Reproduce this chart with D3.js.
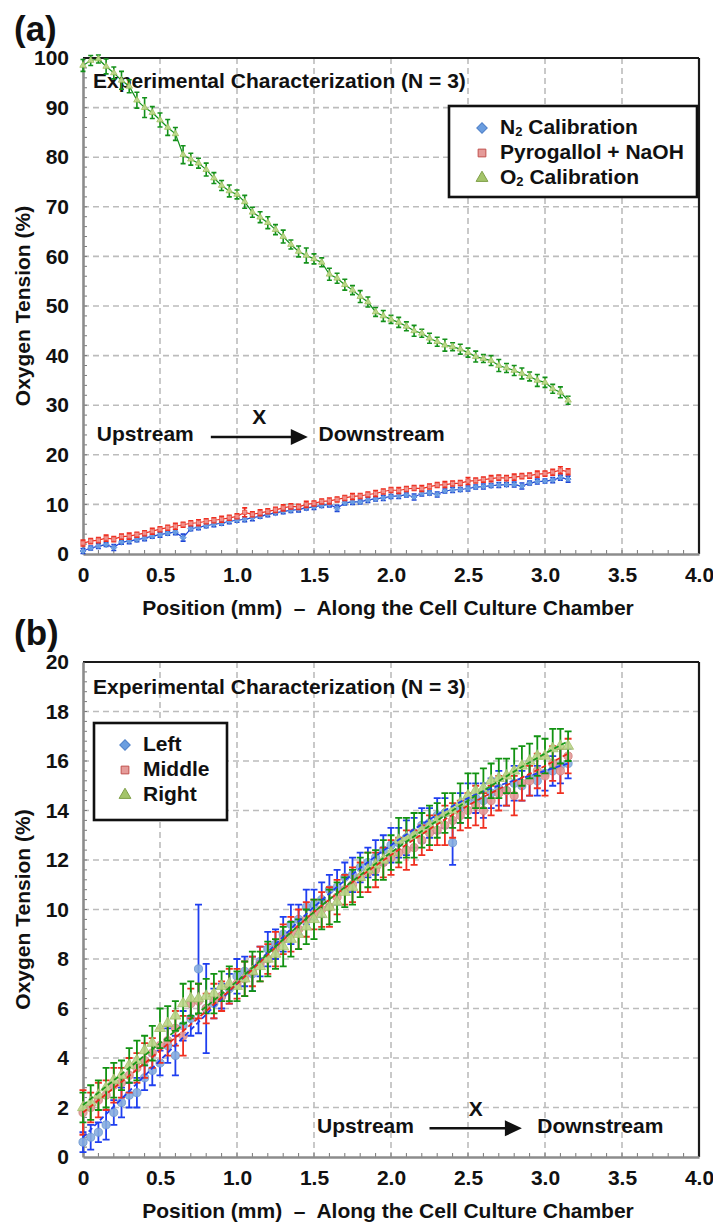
<!DOCTYPE html>
<html>
<head>
<meta charset="utf-8">
<script src="https://cdn.jsdelivr.net/npm/d3@7"></script>
<style>
  body { margin: 0; background: #fff; }
  text { font-family: "Liberation Sans", Arial, sans-serif; font-weight: bold; fill: #111; }
</style>
</head>
<body>
<div id="chart"></div>
<script>
// Oxygen tension along the cell culture chamber, panels (a) and (b)
const positions = [
  0, 0.05, 0.1, 0.15, 0.2, 0.25, 0.3, 0.35,
  0.4, 0.45, 0.5, 0.55, 0.6, 0.65, 0.7, 0.75,
  0.8, 0.85, 0.9, 0.95, 1.0, 1.05, 1.1, 1.15,
  1.2, 1.25, 1.3, 1.35, 1.4, 1.45, 1.5, 1.55,
  1.6, 1.65, 1.7, 1.75, 1.8, 1.85, 1.9, 1.95,
  2.0, 2.05, 2.1, 2.15, 2.2, 2.25, 2.3, 2.35,
  2.4, 2.45, 2.5, 2.55, 2.6, 2.65, 2.7, 2.75,
  2.8, 2.85, 2.9, 2.95, 3.0, 3.05, 3.1, 3.15];

// panel (a)
const n2Mean = [
  0.6, 1.2, 1.6, 1.9, 1.3, 2.4, 2.6, 2.9,
  3.2, 3.6, 3.9, 4.2, 4.4, 3.3, 5.1, 5.4,
  5.7, 6.0, 6.2, 6.6, 6.8, 7.0, 7.3, 7.6,
  8.0, 8.3, 8.6, 8.8, 9.0, 9.3, 9.5, 9.8,
  10.0, 9.2, 10.3, 10.5, 10.5, 10.9, 11.1, 11.3,
  11.6, 11.7, 11.9, 11.5, 12.2, 12.3, 12.0, 12.7,
  12.9, 13.0, 13.2, 13.5, 13.6, 13.8, 13.9, 14.0,
  14.0, 13.7, 14.3, 14.6, 14.7, 14.9, 15.4, 15.1];
const n2Err = [
  0.5, 0.4, 0.5, 0.4, 0.6, 0.4, 0.5, 0.4,
  0.5, 0.4, 0.5, 0.4, 0.5, 0.7, 0.4, 0.5,
  0.4, 0.5, 0.4, 0.5, 0.4, 0.5, 0.6, 0.4,
  0.5, 0.4, 0.5, 0.4, 0.5, 0.4, 0.5, 0.4,
  0.5, 0.6, 0.4, 0.5, 0.4, 0.5, 0.4, 0.5,
  0.4, 0.5, 0.4, 0.6, 0.5, 0.4, 0.5, 0.4,
  0.5, 0.4, 0.5, 0.4, 0.5, 0.4, 0.5, 0.4,
  0.5, 0.6, 0.4, 0.5, 0.4, 0.5, 0.5, 0.6];
const pyroMean = [
  2.2, 2.6, 2.8, 3.2, 3.0, 3.5, 3.6, 3.9,
  4.2, 4.6, 5.0, 5.3, 5.6, 5.9, 6.2, 6.3,
  6.6, 6.8, 7.0, 7.3, 7.6, 8.4, 8.0, 8.3,
  8.6, 8.9, 9.3, 9.6, 9.5, 10.0, 10.2, 10.6,
  10.7, 11.0, 11.3, 11.6, 11.7, 12.0, 12.2, 12.6,
  12.9, 12.8, 13.1, 13.3, 13.2, 13.6, 13.9, 14.0,
  14.2, 14.3, 14.7, 14.8, 15.0, 15.2, 15.4, 15.3,
  15.5, 15.7, 15.8, 16.1, 16.2, 16.5, 16.9, 16.6];
const pyroErr = [
  0.6, 0.5, 0.5, 0.6, 0.5, 0.5, 0.6, 0.5,
  0.5, 0.6, 0.5, 0.5, 0.6, 0.5, 0.5, 0.6,
  0.5, 0.5, 0.6, 0.5, 0.5, 0.9, 0.5, 0.6,
  0.5, 0.5, 0.6, 0.5, 0.5, 0.6, 0.5, 0.5,
  0.6, 0.5, 0.5, 0.6, 0.5, 0.5, 0.6, 0.5,
  0.5, 0.6, 0.5, 0.5, 0.6, 0.5, 0.5, 0.6,
  0.5, 0.5, 0.7, 0.5, 0.5, 0.6, 0.5, 0.5,
  0.6, 0.5, 0.5, 0.6, 0.5, 0.6, 0.7, 0.6];
const o2Mean = [
  98.5, 99.5, 99.8, 98.3, 97.0, 95.5, 94.3, 91.5,
  90.0, 89.0, 87.5, 86.0, 84.7, 80.5, 79.6, 78.8,
  77.5, 75.8, 74.3, 73.2, 72.5, 71.0, 68.9, 67.9,
  66.8, 65.4, 64.0, 62.4, 61.0, 60.2, 59.5, 58.8,
  56.4, 55.6, 54.3, 53.2, 51.9, 50.8, 48.8, 48.0,
  47.3, 46.7, 45.9, 45.0, 44.5, 43.5, 42.8, 42.1,
  41.8, 41.3, 40.6, 39.8, 39.4, 39.0, 38.0, 37.5,
  37.0, 36.4, 35.8, 35.0, 34.6, 33.3, 32.6, 31.0];
const o2Err = [
  1.2, 1.0, 0.8, 1.5, 1.2, 1.8, 1.3, 1.6,
  2.0, 1.2, 1.4, 1.6, 1.3, 1.8, 1.2, 1.0,
  1.3, 1.1, 1.0, 1.2, 0.9, 1.3, 1.0, 1.1,
  1.2, 1.0, 1.3, 0.9, 1.1, 1.5, 1.0, 0.9,
  1.2, 1.0, 1.1, 0.9, 1.2, 1.0, 0.9, 1.1,
  0.8, 1.0, 0.9, 1.1, 0.8, 1.0, 0.9, 1.2,
  0.8, 1.0, 0.9, 1.1, 0.8, 1.0, 1.2, 0.9,
  1.0, 1.1, 0.9, 1.2, 1.0, 0.9, 1.1, 0.8];

// panel (b)
const leftMean = [
  0.6, 0.8, 1.0, 1.3, 1.8, 2.2, 2.5, 2.6,
  3.2, 3.5, 3.8, 4.5, 4.1, 5.3, 5.6, 7.6,
  6.0, 6.2, 6.5, 6.8, 7.3, 7.5, 7.4, 7.9,
  8.4, 8.6, 9.0, 9.4, 9.6, 10.1, 10.2, 10.4,
  10.8, 10.9, 11.3, 11.4, 11.7, 11.9, 12.1, 12.4,
  12.6, 12.7, 12.9, 13.1, 13.4, 13.5, 13.8, 13.9,
  12.7, 14.1, 14.4, 14.5, 14.4, 14.7, 14.9, 14.8,
  15.1, 15.0, 15.3, 15.2, 15.5, 15.6, 15.8, 15.9];
const leftErr = [
  0.4, 0.5, 0.4, 0.6, 0.5, 0.6, 0.5, 0.6,
  0.5, 0.6, 0.5, 0.7, 0.8, 0.6, 0.7, 2.6,
  1.8, 0.6, 0.5, 0.6, 0.7, 0.6, 0.7, 0.6,
  0.7, 0.6, 0.7, 0.8, 0.6, 0.7, 0.6, 0.7,
  0.6, 0.7, 0.6, 0.7, 0.6, 0.6, 0.7, 0.6,
  0.7, 0.6, 0.7, 0.6, 0.7, 0.6, 0.7, 0.6,
  0.9, 0.6, 0.7, 0.6, 0.7, 0.6, 0.7, 0.6,
  0.7, 0.6, 0.7, 0.6, 0.7, 0.6, 0.7, 0.6];
const midMean = [
  1.8, 2.0, 2.3, 2.5, 2.9, 3.0, 3.3, 3.6,
  3.9, 4.2, 4.5, 4.7, 5.2, 4.9, 6.2, 6.3,
  6.0, 6.3, 6.5, 6.9, 7.0, 7.2, 7.5, 7.8,
  8.0, 8.4, 8.8, 9.0, 9.2, 9.6, 9.8, 10.0,
  10.1, 10.5, 10.8, 11.0, 11.3, 11.5, 11.6, 11.9,
  12.1, 12.3, 12.4, 12.5, 12.8, 13.1, 13.2, 13.4,
  13.6, 13.8, 14.0, 14.2, 14.0, 14.4, 14.7, 14.8,
  14.6, 15.1, 15.2, 15.6, 15.4, 15.9, 15.6, 16.2];
const midErr = [
  0.9, 0.6, 0.7, 0.6, 0.7, 0.6, 0.7, 0.6,
  0.7, 0.6, 0.7, 0.6, 0.7, 0.8, 0.6, 0.7,
  0.6, 0.7, 0.6, 0.7, 0.6, 0.7, 0.6, 0.7,
  0.6, 0.7, 0.6, 0.7, 0.8, 0.7, 0.6, 0.7,
  0.8, 0.7, 0.6, 0.7, 0.6, 0.8, 0.7, 0.6,
  0.7, 0.6, 0.8, 0.7, 0.6, 0.7, 0.6, 0.8,
  0.7, 0.6, 0.7, 0.8, 0.7, 0.6, 0.7, 0.6,
  0.8, 0.7, 0.6, 0.7, 0.8, 0.7, 0.9, 0.7];
const rightMean = [
  2.0, 2.2, 2.5, 2.8, 3.1, 3.3, 3.7, 3.9,
  4.3, 4.6, 5.2, 5.4, 5.7, 6.2, 6.4, 6.4,
  6.5, 6.6, 6.9, 7.0, 6.9, 7.2, 7.5, 7.7,
  8.0, 8.2, 8.5, 8.8, 9.0, 9.3, 9.6, 9.8,
  10.1, 10.3, 10.7, 10.9, 11.3, 11.6, 11.8, 12.0,
  12.3, 12.8, 12.9, 13.0, 13.2, 13.4, 13.6, 13.9,
  14.0, 14.3, 14.6, 14.8, 14.9, 15.2, 15.3, 15.4,
  15.6, 15.8, 16.0, 16.2, 16.2, 16.5, 16.6, 16.6];
const rightErr = [
  0.6, 0.7, 0.6, 0.8, 0.7, 0.6, 0.7, 0.8,
  0.6, 0.7, 0.8, 0.7, 0.6, 0.8, 0.7, 0.6,
  0.7, 0.8, 0.6, 0.7, 0.6, 0.7, 0.8, 0.6,
  0.7, 0.6, 0.8, 0.7, 0.6, 0.7, 0.8, 0.6,
  0.7, 0.8, 0.6, 0.7, 0.8, 0.7, 0.6, 0.8,
  0.7, 0.9, 0.8, 0.9, 0.7, 0.8, 0.7, 0.8,
  0.7, 0.8, 0.9, 0.7, 0.8, 0.7, 0.8, 0.7,
  0.9, 0.8, 0.7, 0.8, 0.7, 0.8, 0.7, 0.6];

// fitted trend lines of panel (b)
const trendX = [0, 0.5, 1.0, 1.5, 2.0, 2.5, 3.0, 3.15];
const leftTrend = [0.8, 3.9, 7.0, 10.1, 12.6, 14.5, 15.6, 15.9];
const midTrend = [1.8, 4.3, 7.0, 9.9, 12.2, 14.2, 15.8, 16.3];
const rightTrend = [2.1, 4.6, 7.1, 9.9, 12.3, 14.4, 16.3, 16.8];

const xTicks = [0, 0.5, 1.0, 1.5, 2.0, 2.5, 3.0, 3.5, 4.0];
const yTicksA = [0, 10, 20, 30, 40, 50, 60, 70, 80, 90, 100];
const yTicksB = [0, 2, 4, 6, 8, 10, 12, 14, 16, 18, 20];

const svg = d3.select("#chart").append("svg")
    .attr("width", 713)
    .attr("height", 1223);

function markerTransform(rotate, px, py) {
    return `translate(${px},${py})` + (rotate ? " rotate(45)" : "");
}

function drawPanel(cfg) {
    const x = d3.scaleLinear().domain([0, 4]).range([83, 699]);
    const y = d3.scaleLinear().domain([0, cfg.yMax]).range([cfg.bottom, cfg.top]);
    const g = svg.append("g");

    // dashed grid
    g.selectAll(".vgrid").data(xTicks.slice(1, -1)).enter().append("line")
        .attr("x1", d => x(d)).attr("x2", d => x(d))
        .attr("y1", cfg.top).attr("y2", cfg.bottom)
        .attr("stroke", "#bcbcbc").attr("stroke-width", 1.6).attr("stroke-dasharray", "6,4");
    g.selectAll(".hgrid").data(cfg.yTicks.slice(1, -1)).enter().append("line")
        .attr("x1", x(0)).attr("x2", x(4))
        .attr("y1", d => y(d)).attr("y2", d => y(d))
        .attr("stroke", "#bcbcbc").attr("stroke-width", 1.6).attr("stroke-dasharray", "6,4");

    // minor ticks, pointing inward
    const minorX = d3.range(1, 40).map(i => i / 10);
    g.selectAll(".mx").data(minorX).enter().append("line")
        .attr("x1", d => x(d)).attr("x2", d => x(d))
        .attr("y1", cfg.bottom).attr("y2", cfg.bottom - 4)
        .attr("stroke", "#777").attr("stroke-width", 1);
    const minorY = d3.range(1, 50).map(i => i * cfg.yMax / 50);
    g.selectAll(".my").data(minorY).enter().append("line")
        .attr("x1", x(0)).attr("x2", x(0) + 4)
        .attr("y1", d => y(d)).attr("y2", d => y(d))
        .attr("stroke", "#777").attr("stroke-width", 1);

    // frame: dark top/right, grey axes left/bottom
    g.append("line").attr("x1", x(0)).attr("x2", x(4)).attr("y1", cfg.top).attr("y2", cfg.top)
        .attr("stroke", "#1a1a1a").attr("stroke-width", 2);
    g.append("line").attr("x1", x(4)).attr("x2", x(4)).attr("y1", cfg.top).attr("y2", cfg.bottom)
        .attr("stroke", "#1a1a1a").attr("stroke-width", 2.2);

    const xAxis = g.append("g")
        .attr("transform", `translate(0,${cfg.bottom})`)
        .call(d3.axisBottom(x).tickValues(xTicks).tickSize(0).tickPadding(13)
            .tickFormat(d => d === 0 ? "0" : d3.format(".1f")(d)));
    const yAxis = g.append("g")
        .attr("transform", `translate(${x(0)},0)`)
        .call(d3.axisLeft(y).tickValues(cfg.yTicks).tickSize(0).tickPadding(14));
    [xAxis, yAxis].forEach(a => {
        a.select(".domain").attr("stroke", "#8c8c8c").attr("stroke-width", 2.6);
        a.selectAll("text").style("font-size", "21px").style("font-weight", "bold")
            .style("font-family", '"Liberation Sans", Arial, sans-serif').attr("fill", "#111");
    });

    // axis titles
    g.append("text")
        .attr("x", 388).attr("y", cfg.bottom + 61)
        .attr("text-anchor", "middle")
        .style("font-size", "21px").style("white-space", "pre")
        .text("Position (mm)  \u2013  Along the Cell Culture Chamber");
    g.append("text")
        .attr("transform", `translate(30,${(cfg.top + cfg.bottom) / 2}) rotate(-90)`)
        .attr("text-anchor", "middle")
        .style("font-size", "21px")
        .text("Oxygen Tension (%)");

    g.append("text")
        .attr("x", 14).attr("y", cfg.top - 17)
        .style("font-size", "35px")
        .text(cfg.label);

    g.append("text")
        .attr("x", 93).attr("y", cfg.top + cfg.noteDy)
        .attr("dominant-baseline", "middle")
        .style("font-size", "21px")
        .text("Experimental Characterization (N = 3)");

    // series
    cfg.series.forEach(s => {
        const pts = positions.map((p, i) => ({ x: p, y: s.mean[i], e: s.err[i] }));
        const sg = g.append("g");
        if (s.connect) {
            sg.append("path").datum(pts)
                .attr("fill", "none").attr("stroke", s.barColor).attr("stroke-width", 1.2)
                .attr("d", d3.line().x(d => x(d.x)).y(d => y(d.y)));
        }
        sg.selectAll(".bar").data(pts).enter().append("path")
            .attr("d", d => {
                const cx = x(d.x), y1 = y(d.y + d.e), y0 = y(d.y - d.e), c = cfg.cap;
                return `M${cx},${y0}V${y1}M${cx - c},${y1}H${cx + c}M${cx - c},${y0}H${cx + c}`;
            })
            .attr("stroke", s.barColor).attr("stroke-width", cfg.barWidth).attr("fill", "none");
        sg.selectAll(".pt").data(pts).enter().append("path")
            .attr("transform", d => markerTransform(s.rotate, x(d.x), y(d.y)))
            .attr("d", d3.symbol().type(s.symbol).size(cfg.markerSize))
            .attr("fill", s.fill).attr("stroke", s.stroke).attr("stroke-width", 0.8)
            .attr("fill-opacity", 0.9);
    });

    if (cfg.trends) {
        cfg.trends.forEach(t => {
            g.append("path")
                .datum(trendX.map((p, i) => ({ x: p, y: t.values[i] })))
                .attr("fill", "none").attr("stroke", t.color).attr("stroke-width", 1.8)
                .attr("stroke-dasharray", "5,3")
                .attr("d", d3.line().x(d => x(d.x)).y(d => y(d.y)).curve(d3.curveMonotoneX));
        });
    }

    // upstream -> downstream annotation
    const ay = y(cfg.arrow.y);
    g.append("text").attr("x", x(cfg.arrow.x0)).attr("y", ay)
        .attr("dominant-baseline", "middle").style("font-size", "21px").text("Upstream");
    g.append("line")
        .attr("x1", x(cfg.arrow.a0)).attr("x2", x(cfg.arrow.a1) - 14)
        .attr("y1", ay + 1).attr("y2", ay + 1)
        .attr("stroke", "#111").attr("stroke-width", 2.5);
    g.append("path")
        .attr("d", `M${x(cfg.arrow.a1)},${ay + 1}l-17,-8v16z`)
        .attr("fill", "#111");
    g.append("text").attr("x", (x(cfg.arrow.a0) + x(cfg.arrow.a1)) / 2).attr("y", ay - 17)
        .attr("text-anchor", "middle").attr("dominant-baseline", "middle")
        .style("font-size", "21px").text("X");
    g.append("text").attr("x", x(cfg.arrow.x1)).attr("y", ay)
        .attr("dominant-baseline", "middle").style("font-size", "21px").text("Downstream");

    // legend
    const L = cfg.legend;
    const lg = g.append("g");
    lg.append("rect").attr("x", L.x).attr("y", L.y).attr("width", L.w).attr("height", L.h)
        .attr("fill", "#fff").attr("stroke", "#111").attr("stroke-width", 2.6);
    cfg.series.forEach((s, i) => {
        const ry = L.y + L.first + i * L.gap;
        const rot = s.legendRotate !== undefined ? s.legendRotate : s.rotate;
        lg.append("path")
            .attr("transform", markerTransform(rot, L.x + L.sym, ry))
            .attr("d", d3.symbol().type(s.legendSymbol || s.symbol).size(rot ? 55 : 60))
            .attr("fill", s.legendFill).attr("stroke", s.legendStroke).attr("stroke-width", 1);
        const t = lg.append("text").attr("x", L.x + L.text).attr("y", ry)
            .attr("dominant-baseline", "middle").style("font-size", "21px");
        s.name.forEach(part => {
            const ts = t.append("tspan").text(part.t);
            if (part.sub) ts.style("font-size", "13px").attr("dy", 5);
            if (part.after) ts.attr("dy", -5);
        });
    });
}

drawPanel({
    label: "(a)", top: 58, bottom: 554, yMax: 100, yTicks: yTicksA,
    noteDy: 24, cap: 2.5, barWidth: 1.6, markerSize: 18,
    arrow: { y: 23.8, x0: 0.09, a0: 0.83, a1: 1.46, x1: 1.53 },
    legend: { x: 449, y: 106, w: 248, h: 91, first: 22, gap: 25, sym: 33, text: 51 },
    series: [
        { name: [{ t: "N" }, { t: "2", sub: true }, { t: " Calibration", after: true }],
          mean: n2Mean, err: n2Err, symbol: d3.symbolSquare, rotate: true, connect: true,
          fill: "#6ea3e6", stroke: "#4a7fd0", barColor: "#1d44d8",
          legendFill: "#6b9ee0", legendStroke: "#4e7fc8" },
        { name: [{ t: "Pyrogallol + NaOH" }],
          mean: pyroMean, err: pyroErr, symbol: d3.symbolSquare, connect: true,
          fill: "#f19a96", stroke: "#e8483a", barColor: "#f02a1c",
          legendFill: "#e59b99", legendStroke: "#c0504d" },
        { name: [{ t: "O" }, { t: "2", sub: true }, { t: " Calibration", after: true }],
          mean: o2Mean, err: o2Err, symbol: d3.symbolTriangle, connect: true,
          fill: "#c8de92", stroke: "#9cbc5c", barColor: "#13911a",
          legendFill: "#a4c46a", legendStroke: "#7f9f48" }
    ]
});

drawPanel({
    label: "(b)", top: 662, bottom: 1157, yMax: 20, yTicks: yTicksB,
    noteDy: 26, cap: 3.5, barWidth: 1.8, markerSize: 52,
    arrow: { y: 1.2, x0: 1.52, a0: 2.25, a1: 2.85, x1: 2.95 },
    legend: { x: 94, y: 723, w: 133, h: 97, first: 22, gap: 25, sym: 31, text: 49 },
    series: [
        { name: [{ t: "Left" }], mean: leftMean, err: leftErr, symbol: d3.symbolCircle,
          legendSymbol: d3.symbolSquare, rotate: false, legendRotate: true,
          fill: "#86addf", stroke: "#6b95cf", barColor: "#1f3ff0",
          legendFill: "#6b9ee0", legendStroke: "#4e7fc8" },
        { name: [{ t: "Middle" }], mean: midMean, err: midErr, symbol: d3.symbolCircle,
          legendSymbol: d3.symbolSquare,
          fill: "#e39a98", stroke: "#d0807c", barColor: "#f03020",
          legendFill: "#e59b99", legendStroke: "#c0504d" },
        { name: [{ t: "Right" }], mean: rightMean, err: rightErr, symbol: d3.symbolTriangle,
          fill: "#bdd58a", stroke: "#a3c06c", barColor: "#129312",
          legendFill: "#a4c46a", legendStroke: "#7f9f48" }
    ],
    trends: [
        { values: leftTrend, color: "#1f3ff0" },
        { values: midTrend, color: "#e8291c" },
        { values: rightTrend, color: "#1a9a1a" }
    ]
});
</script>
</body>
</html>
